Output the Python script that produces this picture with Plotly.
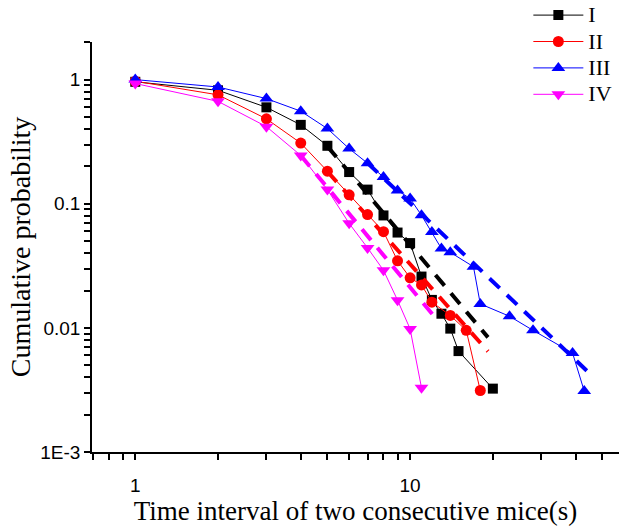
import plotly.graph_objects as go

# Interval between two consecutive mice (s) and cumulative probability, per group
x_I = [1, 2, 3, 4, 5, 6, 7, 8, 9, 10, 11, 12, 13, 14, 15, 20]
y_I = [0.96, 0.82, 0.598, 0.432, 0.293, 0.18, 0.13, 0.0805, 0.0586, 0.0482,
       0.0259, 0.0168, 0.013, 0.00986, 0.0065, 0.00324]

x_II = [1, 2, 3, 4, 5, 6, 7, 8, 9, 10, 11, 12, 14, 16, 18]
y_II = [0.97, 0.754, 0.483, 0.308, 0.183, 0.118, 0.0818, 0.0596, 0.0347,
        0.0253, 0.0222, 0.0161, 0.0126, 0.00955, 0.00313]

x_III = [1, 2, 3, 4, 5, 6, 7, 8, 9, 10, 11, 12, 13, 14, 17, 18, 23, 28, 39, 43]
y_III = [1.0, 0.872, 0.703, 0.557, 0.403, 0.278, 0.212, 0.164, 0.128, 0.11,
         0.0807, 0.0592, 0.0435, 0.0406, 0.0311, 0.0156, 0.0124, 0.00955,
         0.00627, 0.0031]

x_IV = [1, 2, 3, 4, 5, 6, 7, 8, 9, 10, 11]
y_IV = [0.93, 0.668, 0.418, 0.245, 0.13, 0.0695, 0.0441, 0.0291, 0.0167,
        0.0098, 0.00329]

# Power-law fits of the tails (end points of each fitted segment)
fit_x_I, fit_y_I = [5, 19.2], [0.29, 0.00838]
fit_x_II, fit_y_II = [5, 19.2], [0.182, 0.00647]
fit_x_III, fit_y_III = [7, 44.5], [0.213, 0.0044]
fit_x_IV, fit_y_IV = [4, 12.15], [0.245, 0.0126]

names = ["I", "II", "III", "IV"]
colors = ["#000000", "#FF0000", "#0000FF", "#FF00FF"]
symbols = ["square", "circle", "triangle-up", "triangle-down"]
sizes = [10, 11, 12, 12]

series = [(x_I, y_I), (x_II, y_II), (x_III, y_III), (x_IV, y_IV)]
fits = [(fit_x_I, fit_y_I), (fit_x_II, fit_y_II),
        (fit_x_III, fit_y_III), (fit_x_IV, fit_y_IV)]

x_ticks = [1, 10]
x_ticktext = ["1", "10"]
y_ticks = [1, 0.1, 0.01, 0.001]
y_ticktext = ["1", "0.1", "0.01", "1E-3"]

x_minor = [0.7, 0.8, 0.9] + [d * m for d in (1, 10) for m in range(2, 10)]
y_minor = [d * m for d in (0.001, 0.01, 0.1) for m in range(2, 10)] + [2]

fig = go.Figure()

# legend entries use a larger glyph size than the row height is computed from
for (xs, ys), name, c, s, sz in zip(series, names, colors, symbols, sizes):
    fig.add_trace(go.Scatter(
        x=xs, y=ys, name=f'<span style="font-size:22px">{name}</span>',
        mode="lines+markers",
        line=dict(color=c, width=1),
        marker=dict(symbol=s, size=sz, color=c, line=dict(width=0)),
    ))

for (xs, ys), c in zip(fits, colors):
    fig.add_trace(go.Scatter(
        x=xs, y=ys, mode="lines", showlegend=False, hoverinfo="skip",
        line=dict(color=c, width=4, dash="14px,10px"),
    ))

axis_common = dict(
    type="log", showgrid=False, zeroline=False, showline=True,
    linecolor="black", linewidth=1.5, ticks="outside", ticklen=6,
    tickwidth=1.5, tickcolor="black", mirror=False,
    tickfont=dict(family="Liberation Sans, Arial", size=19, color="black"),
)

fig.update_xaxes(
    **axis_common,
    range=[-0.1575, 1.76],
    tickmode="array", tickvals=x_ticks, ticktext=x_ticktext,
    minor=dict(tickmode="array", tickvals=x_minor, ticks="outside",
               ticklen=6, tickwidth=1.5, tickcolor="black", showgrid=False),
    ticklabelstandoff=9,
    title=dict(text="Time interval of two consecutive mice(s)", standoff=4,
               font=dict(family="Liberation Serif, Times New Roman", size=27,
                         color="black")),
)
fig.update_yaxes(
    **axis_common,
    range=[-3, 0.303],
    tickmode="array", tickvals=y_ticks, ticktext=y_ticktext,
    minor=dict(tickmode="array", tickvals=y_minor, ticks="outside",
               ticklen=6, tickwidth=1.5, tickcolor="black", showgrid=False),
    title=dict(text="Cumulative probability", standoff=2,
               font=dict(family="Liberation Serif, Times New Roman", size=28,
                         color="black")),
)

fig.update_layout(
    width=619, height=530,
    margin=dict(l=92, r=0, t=42, b=78, autoexpand=False),
    plot_bgcolor="white", paper_bgcolor="white",
    showlegend=True,
    legend=dict(
        x=0.828, y=1.11, xanchor="left", yanchor="top",
        bgcolor="rgba(0,0,0,0)", borderwidth=0,
        itemwidth=50,
        font=dict(family="Liberation Serif, Times New Roman", size=18,
                  color="black"),
    ),
)

fig.write_html("out.html")
